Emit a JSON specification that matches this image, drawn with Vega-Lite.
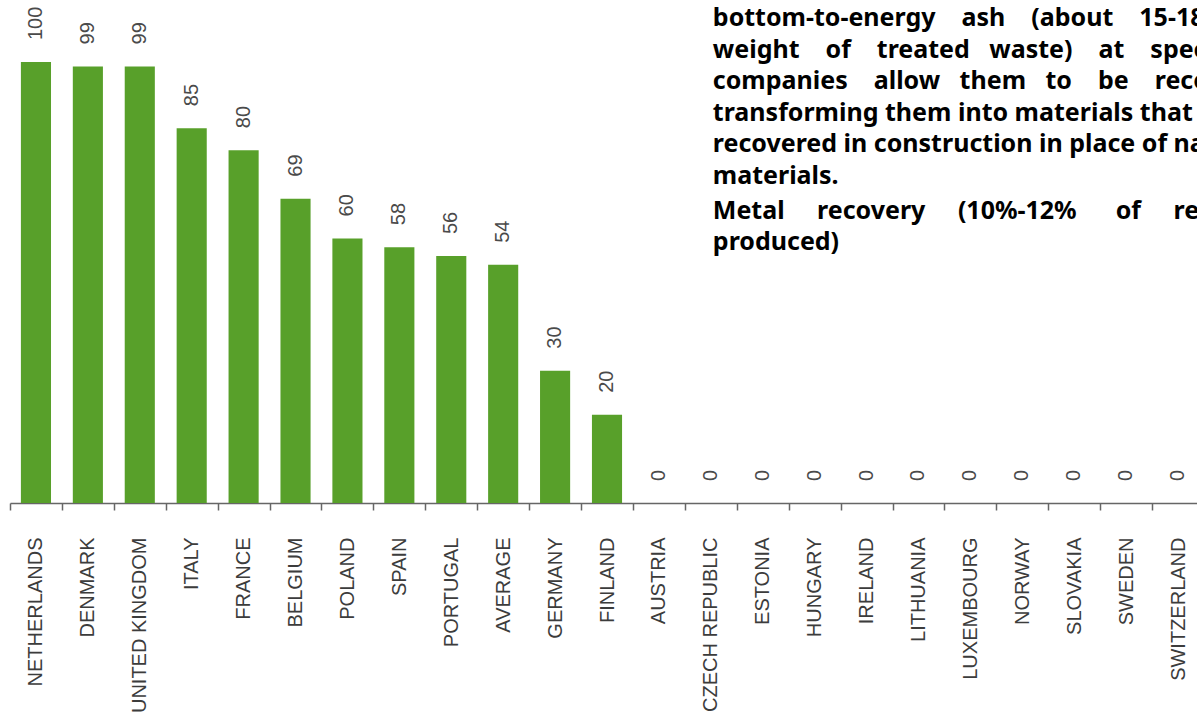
{
  "$schema": "https://vega.github.io/schema/vega-lite/v6.json",
  "width": 1187,
  "height": 441,
  "autosize": {"type": "none"},
  "padding": {"left": 10, "top": 62, "right": 0, "bottom": 215},
  "background": "white",
  "config": {"view": {"stroke": null}},
  "datasets": {
    "recovery": [
      {"country": "NETHERLANDS", "value": 100},
      {"country": "DENMARK", "value": 99},
      {"country": "UNITED KINGDOM", "value": 99},
      {"country": "ITALY", "value": 85},
      {"country": "FRANCE", "value": 80},
      {"country": "BELGIUM", "value": 69},
      {"country": "POLAND", "value": 60},
      {"country": "SPAIN", "value": 58},
      {"country": "PORTUGAL", "value": 56},
      {"country": "AVERAGE", "value": 54},
      {"country": "GERMANY", "value": 30},
      {"country": "FINLAND", "value": 20},
      {"country": "AUSTRIA", "value": 0},
      {"country": "CZECH REPUBLIC", "value": 0},
      {"country": "ESTONIA", "value": 0},
      {"country": "HUNGARY", "value": 0},
      {"country": "IRELAND", "value": 0},
      {"country": "LITHUANIA", "value": 0},
      {"country": "LUXEMBOURG", "value": 0},
      {"country": "NORWAY", "value": 0},
      {"country": "SLOVAKIA", "value": 0},
      {"country": "SWEDEN", "value": 0},
      {"country": "SWITZERLAND", "value": 0}
    ],
    "notes": [
      {"country": "CZECH REPUBLIC", "value": 108.1, "text": [
        "bottom-to-energy\u00a0\u00a0\u00a0\u00a0ash\u00a0\u00a0\u00a0\u00a0(about\u00a0\u00a0\u00a0\u00a015-18%",
        "weight\u00a0\u00a0\u00a0\u00a0of\u00a0\u00a0\u00a0\u00a0treated\u00a0\u00a0\u00a0waste)\u00a0\u00a0\u00a0\u00a0at\u00a0\u00a0\u00a0\u00a0specialized",
        "companies\u00a0\u00a0\u00a0\u00a0allow\u00a0\u00a0\u00a0them\u00a0\u00a0\u00a0to\u00a0\u00a0\u00a0\u00a0be\u00a0\u00a0\u00a0\u00a0recovered,",
        "transforming them into materials that",
        "recovered in construction in place of natural",
        "materials."
      ]},
      {"country": "CZECH REPUBLIC", "value": 64.4, "text": [
        "Metal\u00a0\u00a0\u00a0\u00a0\u00a0recovery\u00a0\u00a0\u00a0\u00a0\u00a0(10%-12%\u00a0\u00a0\u00a0\u00a0\u00a0\u00a0of\u00a0\u00a0\u00a0\u00a0\u00a0residues",
        "produced)"
      ]}
    ]
  },
  "data": {"name": "recovery"},
  "encoding": {
    "x": {
      "field": "country",
      "type": "nominal",
      "sort": null,
      "scale": {"range": [0, 1194], "paddingInner": 0.42, "paddingOuter": 0.21},
      "axis": {
        "title": null,
        "labelAngle": 270,
        "labelAlign": "right",
        "labelBaseline": "middle",
        "labelFont": "Liberation Sans",
        "labelFontSize": 20,
        "labelColor": "#3c3c3c",
        "labelPadding": 27,
        "labelOffset": 25.95,
        "labelLimit": 0,
        "bandPosition": 0.5,
        "tickOffset": -25.95,
        "tickSize": 7,
        "tickColor": "#666666",
        "tickWidth": 1.5,
        "domainColor": "#666666",
        "domainWidth": 1.5,
        "grid": false,
        "labelOverlap": false
      }
    },
    "y": {
      "field": "value",
      "type": "quantitative",
      "scale": {"domain": [0, 100], "nice": false, "zero": true},
      "axis": null
    }
  },
  "layer": [
    {"mark": {"type": "bar", "color": "#58a02a"}},
    {
      "mark": {
        "type": "text",
        "angle": 270,
        "align": "left",
        "baseline": "middle",
        "yOffset": -22,
        "font": "Liberation Sans",
        "fontSize": 20,
        "color": "#4a4a4a"
      },
      "encoding": {"text": {"field": "value", "type": "quantitative"}}
    },
    {
      "data": {"name": "notes"},
      "mark": {
        "type": "text",
        "align": "left",
        "baseline": "alphabetic",
        "font": "Noto Sans",
        "fontWeight": "bold",
        "fontSize": 25,
        "lineHeight": 31.5,
        "color": "#000000",
        "dx": 2
      },
      "encoding": {
        "x": {"field": "country", "type": "nominal", "sort": null},
        "y": {"field": "value", "type": "quantitative"},
        "text": {"field": "text"}
      }
    }
  ]
}
